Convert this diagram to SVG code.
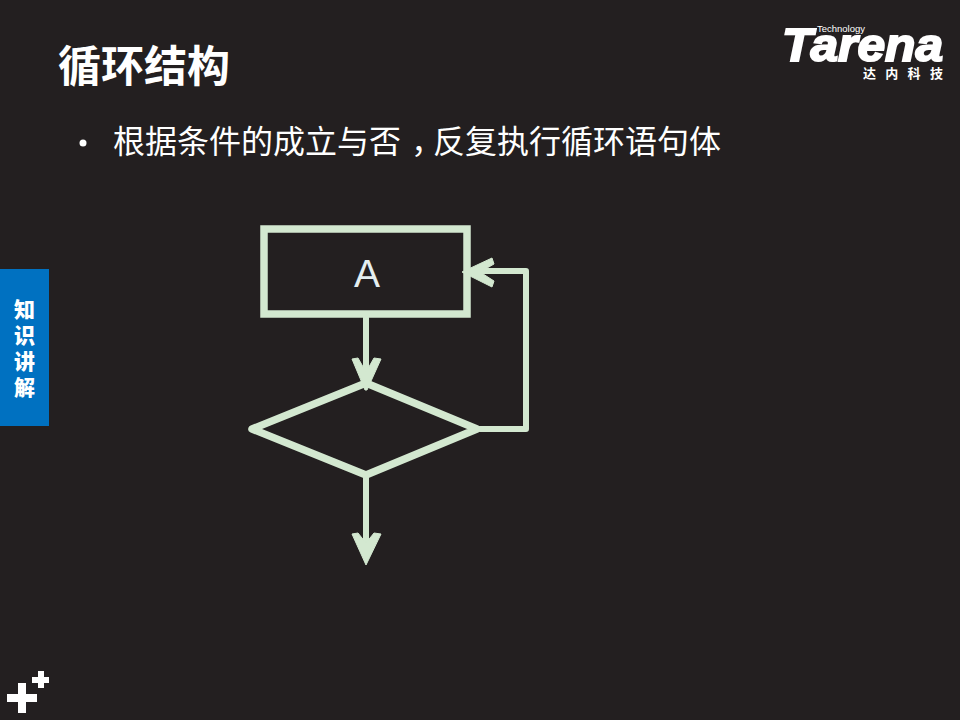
<svg xmlns="http://www.w3.org/2000/svg" width="960" height="720" viewBox="0 0 960 720">
<style>
.cjk{font-family:"Noto Sans CJK SC","Noto Sans",sans-serif;fill:#fff}
.ln{fill:none;stroke:#d3e8d0;stroke-linejoin:round;stroke-linecap:round}
.hd{fill:#d3e8d0;stroke:#d3e8d0;stroke-width:1;stroke-linejoin:round}
.lat{font-family:"Liberation Sans",Arial,sans-serif;fill:#fff}
</style>
<rect width="960" height="720" fill="#231f20"/>
<g id="title"><text class="cjk" x="58" y="82" font-size="43" font-weight="700">循环结构</text></g>
<g id="logo">
<text class="lat" x="782" y="61" font-size="47" font-weight="700" font-style="italic" textLength="161" lengthAdjust="spacingAndGlyphs" stroke="#fff" stroke-width="2">Tarena</text>
<text class="lat" x="817" y="32" font-size="9" textLength="48" lengthAdjust="spacingAndGlyphs">Technology</text>
<text class="cjk" x="863" y="78" font-size="13" font-weight="700" letter-spacing="9.3">达内科技</text>
</g>
<g id="bullet">
<circle cx="83" cy="143" r="3.5" fill="#fff"/>
<text class="cjk" x="113" y="153" font-size="32">根据条件的成立与否<tspan dx="10">，</tspan><tspan dx="-10">反复执行循环语句体</tspan></text>
</g>
<g id="side-tab">
<rect x="0" y="269" width="49" height="157" fill="#0071c1"/>
<text class="cjk" font-size="21" font-weight="900" text-anchor="middle">
<tspan x="24.5" y="317">知</tspan><tspan x="24.5" y="343">识</tspan><tspan x="24.5" y="369">讲</tspan><tspan x="24.5" y="395">解</tspan>
</text>
</g>
<g id="plus-mark" fill="#fff">
<path d="M18 683h8v11h11v8H26v11h-8v-11H7v-8h11z"/>
<path d="M38 671h6v6h5v6h-5v5h-6v-5h-6v-6h6z"/>
</g>
<g id="node-a">
<rect class="ln" x="264" y="229" width="203" height="85" stroke-width="7.5" style="stroke-linejoin:miter"/>
<text x="367" y="287" font-family="'Liberation Sans',Arial,sans-serif" font-size="39" fill="#e4eef0" text-anchor="middle">A</text>
</g>
<g id="node-decision">
<polygon class="ln" points="252,429 366,383 477,429 366,475" stroke-width="7.5"/>
</g>
<g id="connectors">
<path class="ln" stroke-width="6" d="M366 318V378"/>
<path class="hd" d="M352 359L358 358L366 372L374 358L381 359L367 390L365 390Z"/>
<path class="ln" stroke-width="6" d="M480 429H526V271H480"/>
<path class="hd" d="M462 272L492 258L494 264L480 272L494 281L492 287Z"/>
<path class="ln" stroke-width="6" d="M366 478V540"/>
<path class="hd" d="M352 534L358 533L366 543L374 533L381 534L366 565Z"/>
</g>
</svg>
